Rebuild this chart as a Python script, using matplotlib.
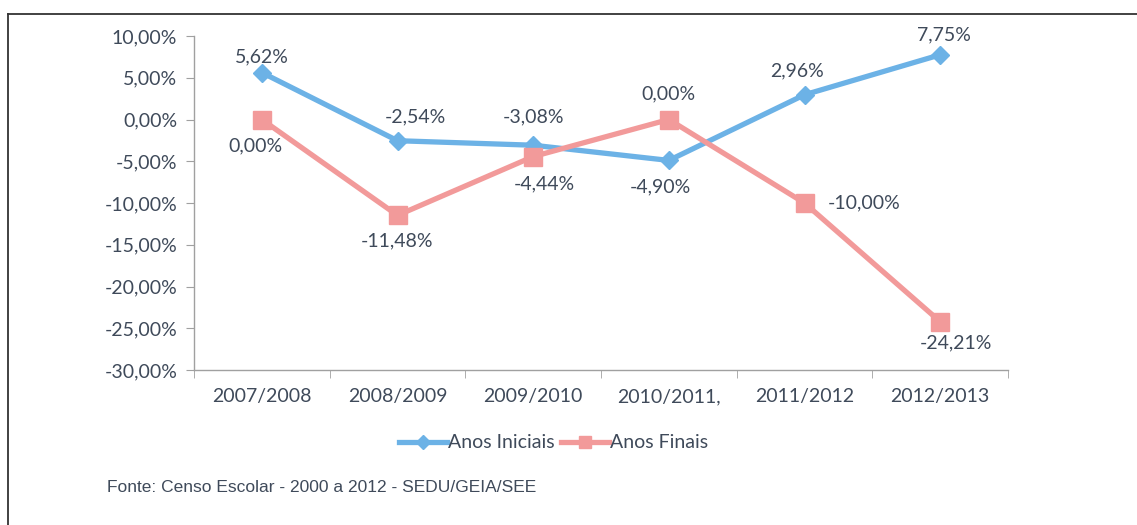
import matplotlib.pyplot as plt
from matplotlib.lines import Line2D

# data
periodos = ["2007/2008", "2008/2009", "2009/2010", "2010/2011,", "2011/2012", "2012/2013"]
anos_iniciais = [5.62, -2.54, -3.08, -4.90, 2.96, 7.75]
anos_finais = [0.00, -11.48, -4.44, 0.00, -10.00, -24.21]
y_ticks = [10, 5, 0, -5, -10, -15, -20, -25, -30]

azul = "#6cb2e6"
rosa = "#f29a9a"
texto = "#3f4a5a"

plt.rcParams['font.family'] = ['Lato', 'DejaVu Sans']

fig = plt.figure(figsize=(11.37, 5.25), dpi=100)
ax = fig.add_axes([194/1137, 1-370/525, (1008-194)/1137, (370-36)/525])

x = list(range(len(periodos)))
ax.plot(x, anos_iniciais, color=azul, lw=3.8, marker="D", ms=9.5, label="Anos Iniciais", zorder=3)
ax.plot(x, anos_finais, color=rosa, lw=3.8, marker="s", ms=12.5, label="Anos Finais", zorder=3)

fmt = lambda v: ("%.2f%%" % v).replace(".", ",")

# label offsets in pixels (dx, dy)
off_ini = [(0, 16), (18, 24), (0, 28), (-8, -26), (-7, 24), (4, 20)]
off_fin = [(-6, -26), (0, -26), (11, -27), (0, 26), (60, 0), (16, -21)]
for i, v in enumerate(anos_iniciais):
    ax.annotate(fmt(v), (i, v), xytext=off_ini[i], textcoords="offset pixels",
                ha="center", va="center", fontsize=14, color=texto)
for i, v in enumerate(anos_finais):
    ax.annotate(fmt(v), (i, v), xytext=off_fin[i], textcoords="offset pixels",
                ha="center", va="center", fontsize=14, color=texto)

ax.set_xlim(-0.5, 5.5)
ax.set_ylim(-30, 10)
ax.set_yticks(y_ticks)
ax.set_yticklabels([fmt(t) for t in y_ticks], fontsize=14, color=texto)
ax.set_xticks(x)
ax.set_xticklabels(periodos, fontsize=14, color=texto)
ax.set_xticks([i - 0.5 for i in range(len(periodos) + 1)], minor=True)
ax.tick_params(axis="x", which="major", length=0, pad=13)
ax.tick_params(axis="x", which="minor", length=6, color="#a0a0a0")
ax.tick_params(axis="y", length=6, color="#a0a0a0", pad=6)
for s in ["top", "right"]:
    ax.spines[s].set_visible(False)
for s in ["left", "bottom"]:
    ax.spines[s].set_color("#a0a0a0")
    ax.spines[s].set_linewidth(1)

fig.legend(handles=ax.get_lines(), loc="center", bbox_to_anchor=(0.487, 1-443/525),
           ncol=2, frameon=False, fontsize=14, labelcolor=texto, markerscale=0.7,
           handlelength=2.5, columnspacing=0.3, handletextpad=0.05)

fig.text(107/1137, 1-488/525, "Fonte: Censo Escolar - 2000 a 2012 - SEDU/GEIA/SEE",
         fontsize=12.5, color=texto, family="Liberation Sans", va="center")

# outer frame (left and top only)
fig.add_artist(Line2D([8/1137, 8/1137], [0, 1-14/525], color="#333333", lw=1.3))
fig.add_artist(Line2D([8/1137, 1], [1-14/525, 1-14/525], color="#333333", lw=1.3))

fig.savefig("out.png", dpi=100)
